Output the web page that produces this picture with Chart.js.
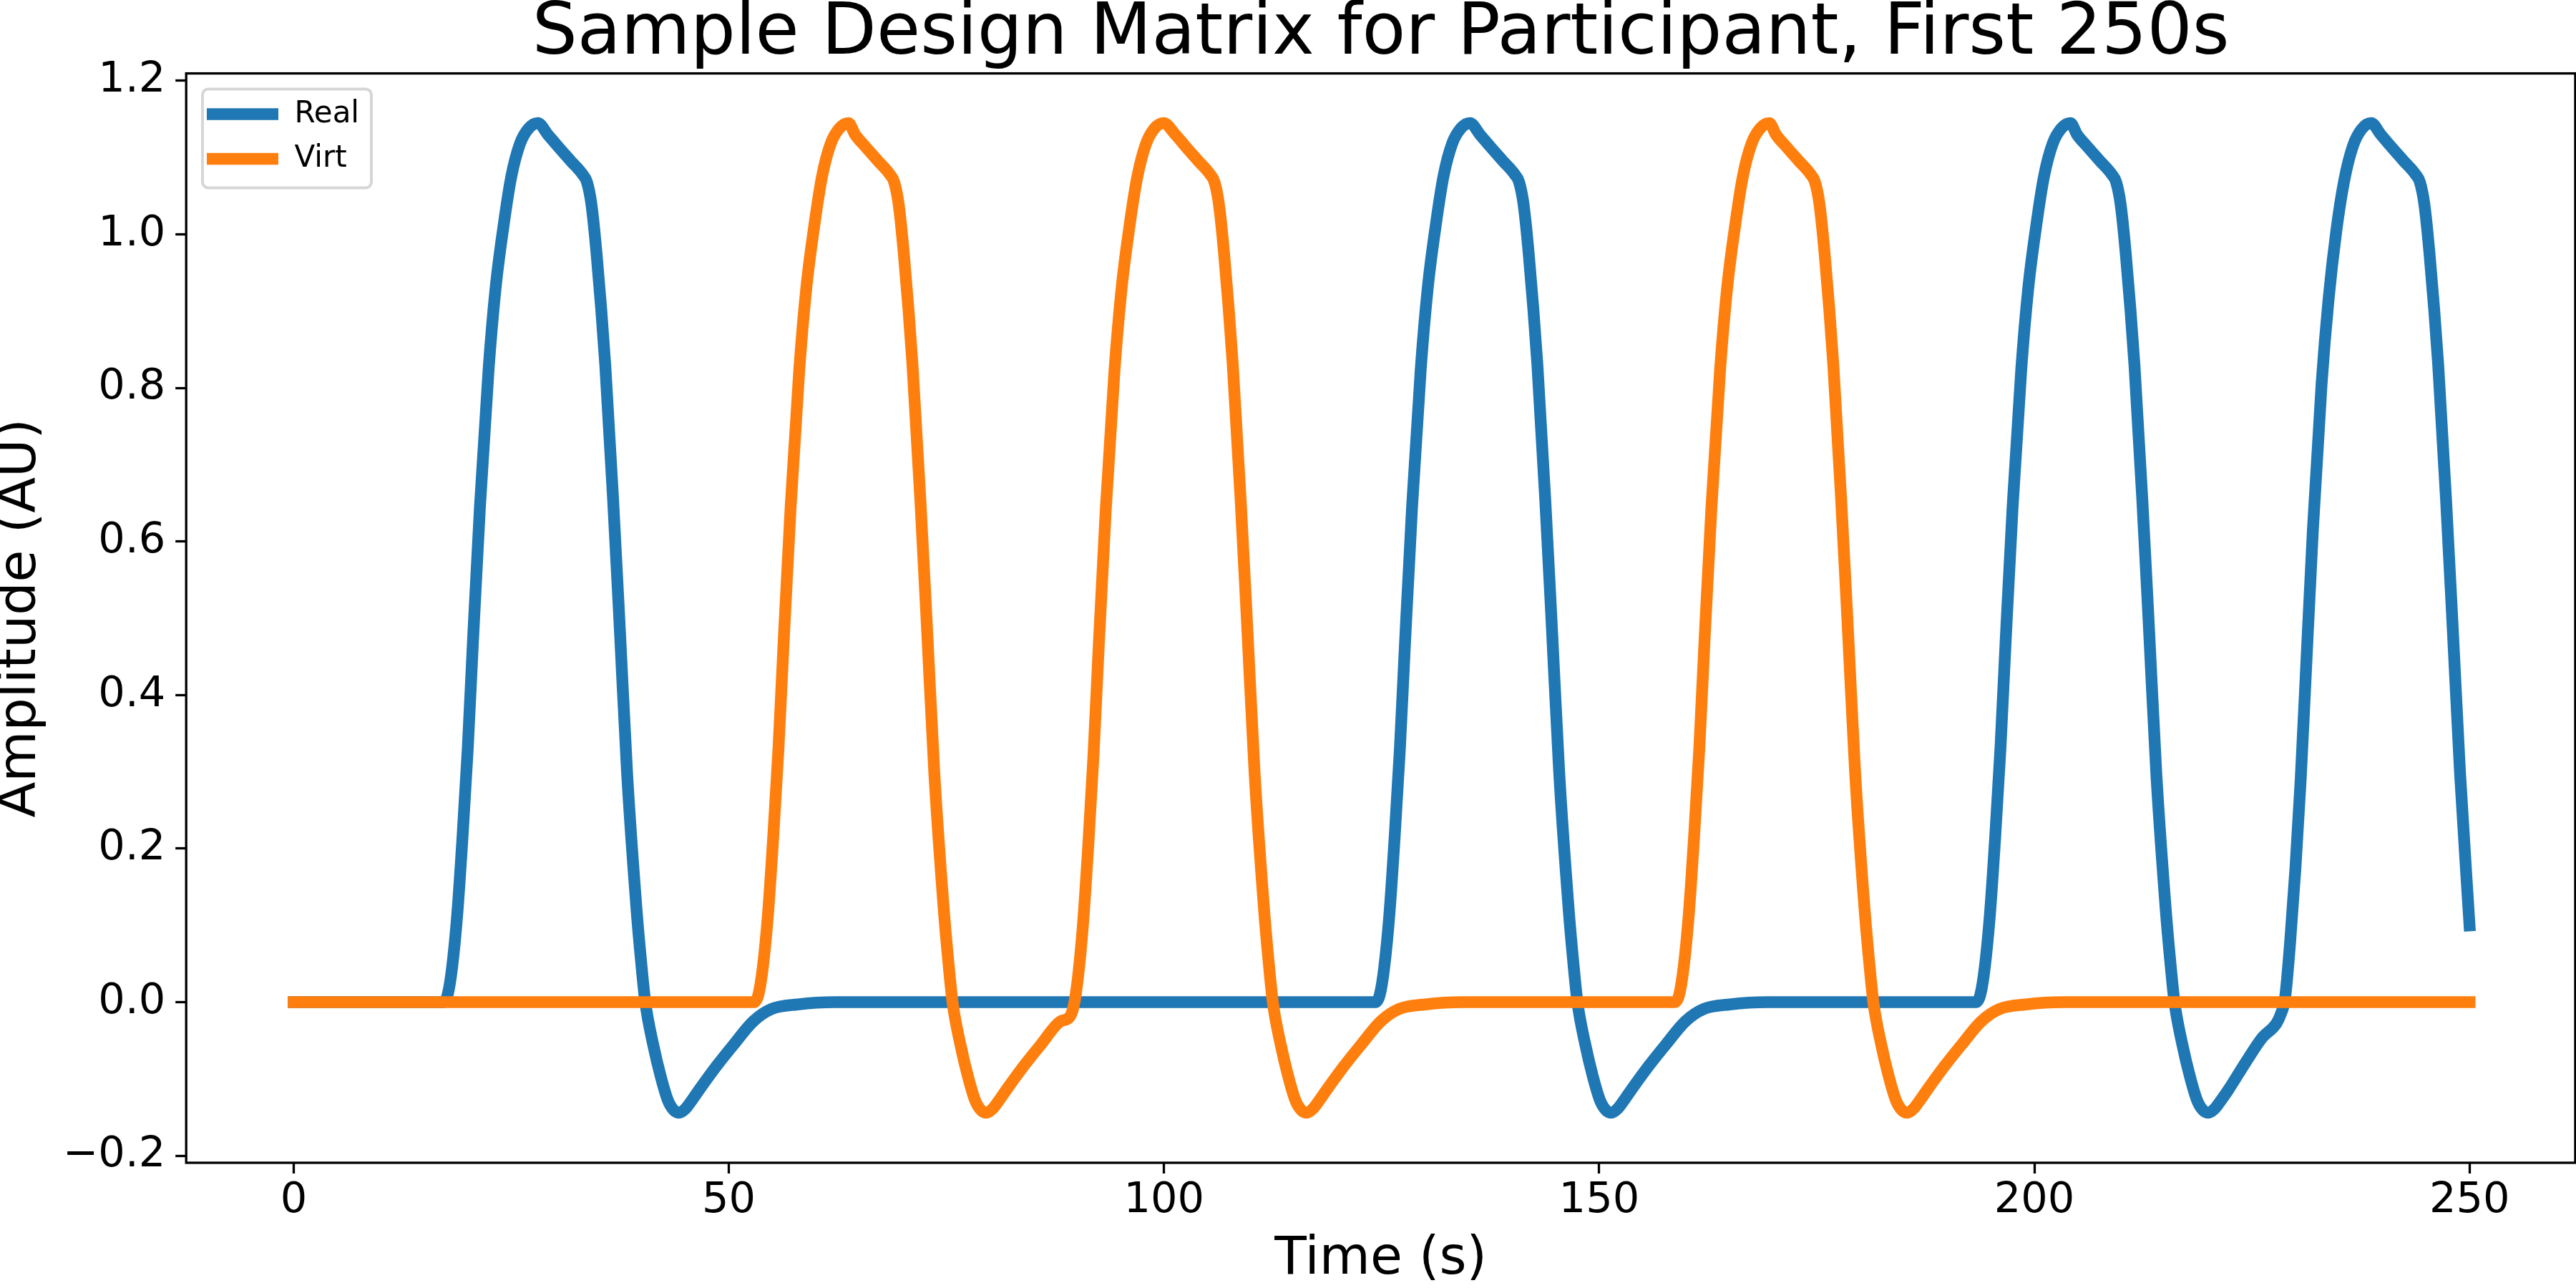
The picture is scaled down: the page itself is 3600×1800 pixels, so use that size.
<!DOCTYPE html>
<html>
<head>
<meta charset="utf-8">
<title>Sample Design Matrix for Participant, First 250s</title>
<script src="https://cdn.jsdelivr.net/npm/chart.js@4.4.1/dist/chart.umd.min.js"></script>
<style>
  html, body { margin: 0; padding: 0; background: #ffffff; }
  canvas { display: block; }
</style>
</head>
<body>
<canvas id="designChart" width="3600" height="1800" style="width:3600px;height:1800px"></canvas>
<script>
// values (time in s, amplitude in AU)
const realTime = [
    0,
    17.2, 17.7, 18.2, 18.8, 19.4, 20.0, 20.6, 21.4, 22.4, 23.2, 24.1, 25.0, 26.0, 27.0, 28.05,
    29.2, 30.4, 31.8, 33.2, 33.7, 34.2, 34.8, 35.8, 36.7, 37.5, 38.3, 39.4, 39.9, 40.4, 41.3,
    42.2, 43.0, 43.7, 44.3, 45.0, 45.8, 46.6, 48.6, 50.5, 52.8, 54.9, 57.9, 62.2,
    124.3, 124.8, 125.3, 125.9, 126.5, 127.1, 127.7, 128.5, 129.5, 130.3, 131.2, 132.1, 133.1, 134.1, 135.15,
    136.3, 137.5, 138.9, 140.3, 140.8, 141.3, 141.9, 142.9, 143.8, 144.6, 145.4, 146.5, 147.0, 147.5, 148.4,
    149.3, 150.1, 150.8, 151.4, 152.1, 152.9, 153.7, 155.7, 157.6, 159.9, 162.0, 165.0, 169.3,
    193.3, 193.8, 194.3, 194.9, 195.5, 196.1, 196.7, 197.5, 198.5, 199.3, 200.2, 201.1, 202.1, 203.1, 204.15,
    204.9, 206.1, 207.5, 208.9, 209.4, 209.9, 210.5, 211.5, 212.4, 213.2, 214.0, 215.1, 215.6, 216.1, 217.0,
    217.9, 218.7, 219.4, 220.0, 220.7, 221.5, 222.3, 224.3, 226.2,
    227.8, 228.3, 228.8, 229.4, 230.0, 230.6, 231.2, 232.0, 233.0, 233.8, 234.7, 235.6, 236.6, 237.6, 238.7,
    239.8, 241.0, 242.4, 243.8, 244.3, 244.8, 245.4, 246.4, 247.3, 248.1, 248.9, 250.0
];
const realAmp = [
    0,
    0, 0.01, 0.045, 0.115, 0.215, 0.33, 0.47, 0.645, 0.825, 0.93, 1.01, 1.075, 1.118, 1.138, 1.145,
    1.130, 1.114, 1.096, 1.078, 1.068, 1.04, 0.975, 0.83, 0.655, 0.48, 0.30, 0.12, 0.055, 0, -0.055,
    -0.098, -0.128, -0.141, -0.144, -0.139, -0.127, -0.114, -0.083, -0.056, -0.025, -0.009, -0.003, 0,
    0, 0.01, 0.045, 0.115, 0.215, 0.33, 0.47, 0.645, 0.825, 0.93, 1.01, 1.075, 1.118, 1.138, 1.145,
    1.130, 1.114, 1.096, 1.078, 1.068, 1.04, 0.975, 0.83, 0.655, 0.48, 0.30, 0.12, 0.055, 0, -0.055,
    -0.098, -0.128, -0.141, -0.144, -0.139, -0.127, -0.114, -0.083, -0.056, -0.025, -0.009, -0.003, 0,
    0, 0.01, 0.045, 0.115, 0.215, 0.33, 0.47, 0.645, 0.825, 0.93, 1.01, 1.075, 1.118, 1.138, 1.145,
    1.130, 1.114, 1.096, 1.078, 1.068, 1.04, 0.975, 0.83, 0.655, 0.48, 0.30, 0.12, 0.055, 0, -0.055,
    -0.098, -0.128, -0.141, -0.144, -0.139, -0.127, -0.114, -0.078, -0.046,
    -0.028, -0.016, 0.005, 0.08, 0.175, 0.29, 0.43, 0.615, 0.805, 0.915, 1.005, 1.07, 1.115, 1.137, 1.145,
    1.13, 1.114, 1.096, 1.078, 1.068, 1.04, 0.975, 0.83, 0.655, 0.48, 0.30, 0.10
];
const virtTime = [
    0,
    52.9, 53.4, 53.9, 54.5, 55.1, 55.7, 56.3, 57.1, 58.1, 58.9, 59.8, 60.7, 61.7, 62.7, 63.75,
    64.5, 65.7, 67.1, 68.5, 69.0, 69.5, 70.1, 71.1, 72.0, 72.8, 73.6, 74.7, 75.2, 75.7, 76.6,
    77.5, 78.3, 79.0, 79.6, 80.3, 81.1, 81.9, 83.9, 85.8, 88.1,
    89.1, 89.6, 90.1, 90.7, 91.3, 91.9, 92.5, 93.3, 94.3, 95.1, 96.0, 96.9, 97.9, 98.9, 99.95,
    101.3, 102.5, 103.9, 105.3, 105.8, 106.3, 106.9, 107.9, 108.8, 109.6, 110.4, 111.5, 112.0, 112.5, 113.4,
    114.3, 115.1, 115.8, 116.4, 117.1, 117.9, 118.7, 120.7, 122.6, 124.9, 127.0, 130.0, 134.3,
    158.7, 159.2, 159.7, 160.3, 160.9, 161.5, 162.1, 162.9, 163.9, 164.7, 165.6, 166.5, 167.5, 168.5, 169.55,
    170.3, 171.5, 172.9, 174.3, 174.8, 175.3, 175.9, 176.9, 177.8, 178.6, 179.4, 180.5, 181.0, 181.5, 182.4,
    183.3, 184.1, 184.8, 185.4, 186.1, 186.9, 187.7, 189.7, 191.6, 193.9, 196.0, 199.0, 203.3,
    250.0
];
const virtAmp = [
    0,
    0, 0.01, 0.045, 0.115, 0.215, 0.33, 0.47, 0.645, 0.825, 0.93, 1.01, 1.075, 1.118, 1.138, 1.145,
    1.130, 1.114, 1.096, 1.078, 1.068, 1.04, 0.975, 0.83, 0.655, 0.48, 0.30, 0.12, 0.055, 0, -0.055,
    -0.098, -0.128, -0.141, -0.144, -0.139, -0.127, -0.114, -0.083, -0.056, -0.025,
    -0.02, -0.006, 0.031, 0.103, 0.205, 0.322, 0.464, 0.64, 0.821, 0.927, 1.008, 1.073, 1.117, 1.138, 1.145,
    1.130, 1.114, 1.096, 1.078, 1.068, 1.04, 0.975, 0.83, 0.655, 0.48, 0.30, 0.12, 0.055, 0, -0.055,
    -0.098, -0.128, -0.141, -0.144, -0.139, -0.127, -0.114, -0.083, -0.056, -0.025, -0.009, -0.003, 0,
    0, 0.01, 0.045, 0.115, 0.215, 0.33, 0.47, 0.645, 0.825, 0.93, 1.01, 1.075, 1.118, 1.138, 1.145,
    1.130, 1.114, 1.096, 1.078, 1.068, 1.04, 0.975, 0.83, 0.655, 0.48, 0.30, 0.12, 0.055, 0, -0.055,
    -0.098, -0.128, -0.141, -0.144, -0.139, -0.127, -0.114, -0.083, -0.056, -0.025, -0.009, -0.003, 0,
    0
];
const seriesNames = ['Real', 'Virt'];
const xTicks = [0, 50, 100, 150, 200, 250];
const yTicks = [-0.2, 0, 0.2, 0.4, 0.6, 0.8, 1.0, 1.2];
const yTickLabels = ['\u22120.2', '0.0', '0.2', '0.4', '0.6', '0.8', '1.0', '1.2'];

const FONT = 'DejaVu Sans';

// four black spines around the plot area
const frame = {
    id: 'frame',
    afterDatasetsDraw(chart) {
        const { ctx, chartArea: a } = chart;
        ctx.save();
        ctx.strokeStyle = '#000000';
        ctx.lineWidth = 3.3;
        ctx.strokeRect(a.left, a.top, a.right - a.left, a.bottom - a.top);
        ctx.restore();
    }
};

// legend box in the upper left corner of the axes
const boxLegend = {
    id: 'boxLegend',
    afterDraw(chart) {
        const { ctx, chartArea: a } = chart;
        const x = a.left + 22.8, y = a.top + 21.8, w = 236, h = 138, r = 8;
        ctx.save();
        ctx.beginPath();
        ctx.moveTo(x + r, y);
        ctx.arcTo(x + w, y, x + w, y + h, r);
        ctx.arcTo(x + w, y + h, x, y + h, r);
        ctx.arcTo(x, y + h, x, y, r);
        ctx.arcTo(x, y, x + w, y, r);
        ctx.closePath();
        ctx.fillStyle = 'rgba(255,255,255,0.8)';
        ctx.fill();
        ctx.strokeStyle = 'rgba(204,204,204,0.8)';
        ctx.lineWidth = 4;
        ctx.stroke();

        chart.data.datasets.forEach((ds, i) => {
            const ly = a.top + 57 + i * 62.4;
            ctx.beginPath();
            ctx.strokeStyle = ds.borderColor;
            ctx.lineWidth = 16.5;
            ctx.lineCap = 'butt';
            ctx.moveTo(a.left + 28.8, ly);
            ctx.lineTo(a.left + 128.8, ly);
            ctx.stroke();
            ctx.fillStyle = '#000000';
            ctx.font = '42px "' + FONT + '"';
            ctx.textAlign = 'left';
            ctx.textBaseline = 'middle';
            ctx.fillText(ds.label, a.left + 151.3, ly);
        });
        ctx.restore();
    }
};

function points(times, values) {
    return times.map((t, i) => ({ x: t, y: values[i] }));
}

const ctx = document.getElementById('designChart').getContext('2d');
new Chart(ctx, {
    type: 'line',
    data: {
        datasets: [
            {
                label: seriesNames[0],
                data: points(realTime, realAmp),
                borderColor: '#1f77b4',
                borderWidth: 16.5,
                borderCapStyle: 'square',
                borderJoinStyle: 'round',
                cubicInterpolationMode: 'monotone',
                pointRadius: 0,
                fill: false,
                order: 1
            },
            {
                label: seriesNames[1],
                data: points(virtTime, virtAmp),
                borderColor: '#ff7f0e',
                borderWidth: 16.5,
                borderCapStyle: 'square',
                borderJoinStyle: 'round',
                cubicInterpolationMode: 'monotone',
                pointRadius: 0,
                fill: false,
                order: 0
            }
        ]
    },
    options: {
        responsive: false,
        animation: false,
        devicePixelRatio: 1,
        layout: { padding: { left: 0, right: 1, top: 0, bottom: 0 } },
        plugins: {
            legend: { display: false },
            tooltip: { enabled: false },
            title: {
                display: true,
                fullSize: false,
                text: 'Sample Design Matrix for Participant, First 250s',
                color: '#000000',
                font: { family: FONT, size: 99.5, weight: 'normal', lineHeight: 0.9 },
                padding: { top: 4, bottom: 9.05 }
            }
        },
        scales: {
            x: {
                type: 'linear',
                min: -12.35,
                max: 262.15,
                afterBuildTicks(scale) {
                    scale.ticks = xTicks.map(v => ({ value: v }));
                },
                afterFit(scale) {
                    scale.height = 175;
                },
                ticks: {
                    autoSkip: false,
                    maxRotation: 0,
                    minRotation: 0,
                    padding: 3,
                    color: '#000000',
                    font: { family: FONT, size: 59 },
                    callback: value => String(value)
                },
                grid: {
                    drawOnChartArea: false,
                    drawTicks: true,
                    tickLength: 15,
                    tickWidth: 3.3,
                    tickColor: '#000000'
                },
                border: { display: false },
                title: {
                    display: true,
                    text: 'Time (s)',
                    color: '#000000',
                    font: { family: FONT, size: 73, lineHeight: 1 },
                    padding: { top: 0, bottom: 2.1 }
                }
            },
            y: {
                type: 'linear',
                min: -0.2092,
                max: 1.2096,
                afterBuildTicks(scale) {
                    scale.ticks = yTicks.map(v => ({ value: v }));
                },
                afterFit(scale) {
                    scale.width = 260.2;
                },
                ticks: {
                    autoSkip: false,
                    padding: 14,
                    color: '#000000',
                    font: { family: FONT, size: 59 },
                    callback: (value, index) => yTickLabels[index]
                },
                grid: {
                    drawOnChartArea: false,
                    drawTicks: true,
                    tickLength: 15,
                    tickWidth: 3.3,
                    tickColor: '#000000'
                },
                border: { display: false },
                title: {
                    display: true,
                    text: 'Amplitude (AU)',
                    color: '#000000',
                    font: { family: FONT, size: 73, lineHeight: 0.81 },
                    padding: 0
                }
            }
        }
    },
    plugins: [frame, boxLegend]
});
</script>
</body>
</html>
